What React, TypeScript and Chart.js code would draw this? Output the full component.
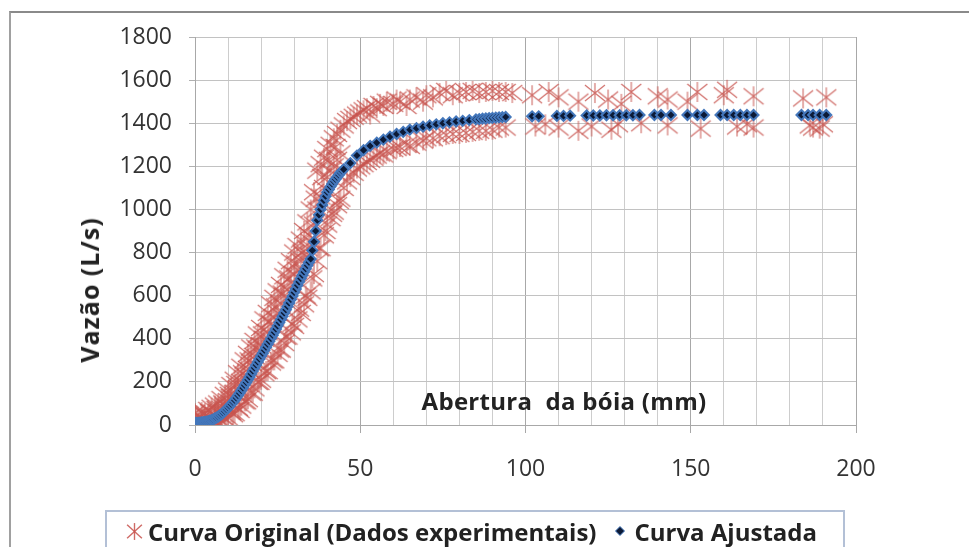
import { useEffect, useRef } from "react";
import { Chart, registerables } from "chart.js";

Chart.register(...registerables);

// ---------- data ----------
const xTickLabels = [0, 50, 100, 150, 200];
const yTickLabels = [0, 200, 400, 600, 800, 1000, 1200, 1400, 1600, 1800];

// Curva Ajustada (fitted curve)
const fitX = [
  0, 0.5, 1, 1.5, 2, 2.5, 3, 3.5, 4, 4.5, 5, 5.5, 6, 6.5, 7, 7.5, 8, 8.5, 9, 9.5,
  10, 10.5, 11, 11.5, 12, 12.5, 13, 13.5, 14, 14.5, 15, 15.5, 16, 16.5, 17, 17.5, 18, 18.5, 19, 19.5,
  20, 20.5, 21, 21.5, 22, 22.5, 23, 23.5, 24, 24.5, 25, 25.5, 26, 26.5, 27, 27.5, 28, 28.5, 29, 29.5,
  30, 30.5, 31, 31.5, 32, 32.5, 33, 33.5, 34, 34.5, 35, 35.5, 36, 36.5, 37, 37.5, 38, 38.5, 39, 39.5,
  40, 40.5, 41, 41.5, 42, 42.5, 43, 43.5, 44, 44.5, 45,
  47, 49, 51, 53, 55, 57, 59, 61, 63, 65, 67, 69, 71, 73, 75, 77, 79, 81, 83, 85,
  86, 87, 88, 89, 90, 91, 92, 93, 94,
  102, 104, 109.5, 111.5, 113.5, 118.5, 120.5, 122.5, 124.5, 126.5, 128.5, 130.5, 132.5, 134.5, 139, 141, 144, 149,
  152, 154, 159, 161, 163, 165, 167, 169, 183.5, 185.5, 187, 189, 191,
];
const fitY = [
  10, 10, 10, 11, 12, 13, 14, 16, 18, 20, 23, 26, 30, 34, 39, 44, 50, 57, 64, 72,
  80, 88, 97, 106, 115, 126, 137, 148, 160, 172, 185, 197, 210, 223, 237, 251, 265, 278, 292, 306,
  320, 333, 347, 361, 375, 388, 402, 416, 430, 445, 460, 475, 490, 505, 520, 535, 550, 566, 582, 598,
  615, 631, 648, 664, 680, 695, 710, 725, 740, 755, 770, 810, 850, 900, 950, 975, 1000, 1021, 1042, 1061,
  1080, 1093, 1106, 1118, 1130, 1140, 1150, 1160, 1170, 1178, 1186,
  1215, 1250, 1275, 1295, 1310, 1324, 1338, 1350, 1360, 1370, 1377, 1384, 1390, 1395, 1400, 1404, 1408, 1411, 1414, 1418,
  1419, 1421, 1422, 1424, 1425, 1426, 1427, 1428, 1429,
  1432, 1432, 1434, 1434, 1435, 1436, 1436, 1436, 1437, 1437, 1437, 1437, 1437, 1438, 1438, 1438, 1438, 1438,
  1438, 1438, 1438, 1438, 1438, 1438, 1438, 1438, 1438, 1438, 1438, 1438, 1438,
];

// Curva Original (experimental data) - rising part, several readings per opening
const riseX = [
  0, 1, 2, 3, 4, 5, 6, 7, 8, 9, 10, 11, 12, 13, 14, 15, 16, 17, 18, 19, 20, 21, 22, 23, 24, 25, 26, 27, 28, 29,
  30, 31, 32, 33, 34, 35, 36, 37, 38, 39, 40, 41, 42, 43, 44,
];
const riseA = [
  -15, 40, 60, -5, 70, 10, 90, 5, 120, 30, 160, 60, 210, 80, 270, 110, 330, 150, 390, 200, 450, 240, 520, 290, 590,
  330, 650, 380, 720, 430, 800, 490, 860, 560, 940, 620, 1080, 760, 1210, 880, 1280, 960, 1330, 1020, 1370,
];
const riseB = [
  25, 5, -10, 55, 0, 80, 15, 100, 20, 140, 35, 185, 55, 240, 90, 300, 120, 360, 170, 420, 210, 490, 250, 560, 300,
  620, 350, 690, 410, 760, 460, 830, 520, 900, 590, 1000, 700, 1180, 820, 1240, 930, 1300, 990, 1350, 1050,
];
const riseC = [
  55, -20, 30, 20, 35, -15, 45, 60, 75, 90, 110, 130, 150, 170, 200, 230, 260, 290, 320, 350, 370, 400, 430, 470, 500,
  520, 560, 600, 630, 660, 700, 720, 760, 790, 820, 850, 930, 1000, 1060, 1100, 1150, 1180, 1200, 1230, 1260,
];
const riseHalfX = [
  0.5, 1.5, 2.5, 3.5, 4.5, 5.5, 6.5, 7.5, 8.5, 9.5, 10.5, 11.5, 12.5, 13.5, 14.5, 15.5, 16.5, 17.5, 18.5, 19.5,
  20.5, 21.5, 22.5, 23.5, 24.5, 25.5, 26.5, 27.5, 28.5, 29.5, 30.5, 31.5, 32.5, 33.5, 34.5, 35.5, 36.5, 37.5,
  38.5, 39.5, 40.5, 41.5, 42.5, 43.5,
];
const riseD = [
  45, -10, 50, -5, 60, 0, 75, 10, 100, 25, 140, 50, 190, 70, 240, 110, 300, 150, 360, 200,
  420, 250, 480, 300, 550, 350, 610, 410, 680, 470, 750, 540, 800, 600, 880, 680, 1050, 820,
  1150, 900, 1230, 980, 1290, 1040,
];
// transition part
const midX = [45, 46, 47, 48, 49, 50, 51, 52, 53, 54, 55, 56, 57, 58, 60, 61, 62, 64, 65, 67, 69, 70, 72, 74, 76, 78, 80, 82, 84, 86, 88, 90, 92, 94];
const midUpper = [
  1390, 1410, 1420, 1430, 1440, 1450, 1460, 1470, 1440, 1480, 1470, 1490, 1480, 1500, 1490, 1510, 1500, 1480, 1510,
  1520, 1500, 1530, 1520, 1540, 1550, 1530, 1540, 1545, 1550, 1540, 1545, 1550, 1545, 1545,
];
const midLower = [
  1100, 1130, 1150, 1170, 1190, 1200, 1210, 1220, 1230, 1240, 1250, 1260, 1255, 1270, 1280, 1285, 1290, 1300, 1295,
  1310, 1320, 1330, 1330, 1340, 1345, 1350, 1350, 1355, 1360, 1365, 1365, 1370, 1380, 1380,
];
// flat part
const flatUpX = [96, 102, 107, 110, 116, 121, 125, 129, 132, 140, 143, 149, 152, 160, 161, 169, 184, 191];
const flatUpY = [1540, 1530, 1545, 1520, 1500, 1540, 1510, 1490, 1545, 1525, 1510, 1500, 1545, 1530, 1555, 1525, 1515, 1520];
const flatLowX = [103, 106, 110, 116, 120, 126, 128, 135, 143, 153, 164, 167, 169, 186, 187, 189, 190];
const flatLowY = [1385, 1395, 1380, 1365, 1385, 1370, 1395, 1400, 1390, 1375, 1385, 1395, 1380, 1390, 1380, 1375, 1395];

const RED = "rgba(200,85,80,0.88)";
const FONT = '"Open Sans", "DejaVu Sans", sans-serif';

function pairs(xs: number[], ys: number[]) {
  return xs.map((x, i) => ({ x, y: ys[i] }));
}

function makeStar(r: number) {
  const c = document.createElement("canvas");
  const s = Math.ceil(r * 2 + 2);
  c.width = s;
  c.height = s;
  const g = c.getContext("2d")!;
  const m = s / 2;
  g.strokeStyle = RED;
  g.lineWidth = 1.1;
  g.beginPath();
  g.moveTo(m, m - r);
  g.lineTo(m, m + r);
  g.moveTo(m - r, m - r * 0.8);
  g.lineTo(m + r, m + r * 0.8);
  g.moveTo(m - r, m + r * 0.8);
  g.lineTo(m + r, m - r * 0.8);
  g.stroke();
  return c;
}

export default function App() {
  const ref = useRef<HTMLCanvasElement>(null);

  useEffect(() => {
    const canvas = ref.current!;
    const star = makeStar(10);
    const origData = [
      ...pairs(riseX, riseA),
      ...pairs(riseX, riseB),
      ...pairs(riseX, riseC),
      ...pairs(riseHalfX, riseD),
      ...pairs(midX, midUpper),
      ...pairs(midX, midLower),
      ...pairs(flatUpX, flatUpY),
      ...pairs(flatLowX, flatLowY),
    ];
    const chart = new Chart(canvas, {
      type: "scatter",
      data: {
        datasets: [
          {
            label: "Curva Ajustada",
            data: pairs(fitX, fitY),
            pointStyle: "rectRot",
            pointRadius: 5,
            backgroundColor: "#0c1a36",
            borderColor: "#4477bb",
            borderWidth: 2,
          },
          {
            label: "Curva Original (Dados experimentais)",
            data: origData,
            pointStyle: star as any,
            pointRadius: 10,
            backgroundColor: RED,
            borderColor: RED,
          },
        ],
      },
      options: {
        animation: false,
        responsive: false,
        maintainAspectRatio: false,
        events: [],
        layout: { padding: { left: 0, top: 37, right: 113, bottom: 0 } },
        plugins: { legend: { display: false }, tooltip: { enabled: false } },
        scales: {
          x: {
            type: "linear",
            min: 0,
            max: 200,
            afterFit: (s: any) => {
              s.height = 122;
            },
            ticks: {
              stepSize: 10,
              autoSkip: false,
              maxRotation: 0,
              padding: 23,
              color: "#333",
              font: { family: FONT, size: 23 },
              callback: (v: any) => (xTickLabels.includes(Number(v)) ? String(v) : ""),
            },
            grid: {
              color: (ctx: any) => (ctx.tick && ctx.tick.value % 50 === 0 ? "#a8a8a8" : "#cdcdcd"),
              tickColor: (ctx: any) => (ctx.tick && ctx.tick.value % 50 === 0 ? "#a8a8a8" : "rgba(0,0,0,0)"),
              tickLength: 8,
              lineWidth: 1,
            },
            border: { display: true, color: "#a8a8a8" },
          },
          y: {
            type: "linear",
            min: 0,
            max: 1800,
            afterFit: (s: any) => {
              s.width = 195;
            },
            ticks: {
              stepSize: 200,
              padding: 17,
              color: "#333",
              font: { family: FONT, size: 23 },
              callback: (v: any) => (yTickLabels.includes(Number(v)) ? String(v) : ""),
            },
            grid: { color: "#c2c2c2", tickColor: "#b0b0b0", tickLength: 6, lineWidth: 1 },
            border: { display: true, color: "#a8a8a8" },
          },
        },
      },
    });
    return () => chart.destroy();
  }, []);

  return (
    <div
      style={{
        position: "fixed",
        left: 0,
        top: 0,
        width: 969,
        height: 547,
        overflow: "hidden",
        background: "#fff",
        fontFamily: FONT,
      }}
    >
      <div
        style={{
          position: "absolute",
          left: 9,
          top: 11,
          width: 1000,
          height: 600,
          borderTop: "2px solid #8a8a8a",
          borderLeft: "2px solid #a0a0a0",
        }}
      />
      <canvas ref={ref} width={969} height={547} style={{ position: "absolute", left: 0, top: 0, width: 969, height: 547 }} />
      <div
        style={{
          position: "absolute",
          left: 89,
          top: 290,
          transform: "translate(-50%, -50%) rotate(-90deg)",
          whiteSpace: "pre",
          fontWeight: 700,
          fontSize: 25,
          letterSpacing: 1,
          color: "#222",
        }}
      >
        Vazão (L/s)
      </div>
      <div
        style={{
          position: "absolute",
          left: 564,
          top: 400,
          transform: "translate(-50%, -50%)",
          whiteSpace: "pre",
          fontWeight: 700,
          fontSize: 24,
          letterSpacing: 0.3,
          color: "#222",
        }}
      >
        {"Abertura  da bóia (mm)"}
      </div>
      <div
        style={{
          position: "absolute",
          left: 105,
          top: 510,
          width: 740,
          height: 60,
          border: "2px solid #b3c0d6",
          boxSizing: "border-box",
        }}
      />
      <div
        style={{
          position: "absolute",
          left: 126,
          top: 513,
          height: 36,
          display: "flex",
          alignItems: "center",
          whiteSpace: "pre",
          fontWeight: 700,
          fontSize: 24,
          color: "#222",
        }}
      >
        <svg width="17" height="19" viewBox="0 0 16 18" style={{ marginRight: 5 }}>
          <g stroke={RED} strokeWidth="1.3">
            <line x1="8" y1="1" x2="8" y2="17" />
            <line x1="1" y1="2.5" x2="15" y2="15.5" />
            <line x1="1" y1="15.5" x2="15" y2="2.5" />
          </g>
        </svg>
        <span>Curva Original (Dados experimentais)</span>
        <svg width="12" height="12" viewBox="0 0 12 12" style={{ marginLeft: 18, marginRight: 8 }}>
          <polygon points="6,1.5 10.5,6 6,10.5 1.5,6" fill="#0c1a36" stroke="#4477bb" strokeWidth="1" />
        </svg>
        <span>Curva Ajustada</span>
      </div>
    </div>
  );
}
